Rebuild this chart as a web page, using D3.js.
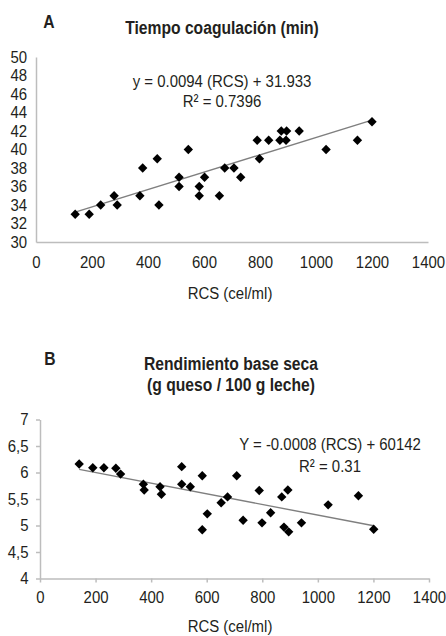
<!DOCTYPE html>
<html lang="es">
<head>
  <meta charset="UTF-8">
  <title>RCS vs coagulación y rendimiento</title>
  <script src="https://d3js.org/d3.v7.min.js"></script>
  <style>
    body {
      margin: 0;
      padding: 0;
      background: #fff;
    }
    svg {
      display: block;
      font-family: "Liberation Sans", Arial, sans-serif;
      fill: #231f20;
    }
    .axis path { stroke: #bdbdbd; stroke-width: 1.5; }
    .axis line { stroke: #bdbdbd; stroke-width: 1.5; }
    .axis text { font-size: 17px; fill: #231f20; font-family: inherit; }
  </style>
</head>
<body>
  <svg width="446" height="636"></svg>

  <script>
    // Panel A: tiempo de coagulación (min) vs RCS (cel/ml)
    const rcsA = [140, 190, 231, 279, 290, 371, 381, 433, 439, 511, 511, 544, 583, 583, 602,
                  655, 674, 707, 731, 798, 790, 831, 871, 893, 876, 895, 940, 1036, 1148, 1200];
    const tiempo = [33, 33, 34, 35, 34, 35, 38, 39, 34, 37, 36, 40, 36, 35, 37,
                    35, 38, 38, 37, 39, 41, 41, 41, 41, 42, 42, 42, 40, 41, 43];

    // Panel B: rendimiento base seca (g queso / 100 g leche) vs RCS
    const rcsB = [141, 190, 230, 273, 290, 372, 375, 432, 437, 510, 510, 541, 584, 584, 602,
                  652, 675, 708, 731, 789, 799, 830, 870, 878, 892, 895, 941, 1037, 1146, 1201];
    const rendimiento = [6.16, 6.09, 6.09, 6.08, 5.97, 5.78, 5.67, 5.73, 5.59, 6.11, 5.78, 5.73, 5.94, 4.92, 5.22,
                         5.43, 5.54, 5.94, 5.10, 5.66, 5.05, 5.24, 5.54, 4.97, 5.67, 4.88, 5.05, 5.39, 5.56, 4.93];

    const xTicks = [0, 200, 400, 600, 800, 1000, 1200, 1400];
    const yTicksA = [30, 32, 34, 36, 38, 40, 42, 44, 46, 48, 50];
    const yTicksB = [4, 4.5, 5, 5.5, 6, 6.5, 7];

    const svg = d3.select("svg");
    const narrow = 0.88; // fake a condensed face, no narrow font installed

    // least squares fit, used for the trend line
    function fit(xs, ys) {
      const mx = d3.mean(xs), my = d3.mean(ys);
      let sxy = 0, sxx = 0;
      xs.forEach((x, i) => { sxy += (x - mx) * (ys[i] - my); sxx += (x - mx) * (x - mx); });
      const m = sxy / sxx;
      return x => my + m * (x - mx);
    }

    function label(x, y, txt, size, bold) {
      return svg.append("text")
        .attr("transform", `translate(${x},${y}) scale(${bold ? 0.87 : narrow},1)`)
        .attr("text-anchor", "middle")
        .attr("font-size", size)
        .attr("font-weight", bold ? "bold" : null)
        .text(txt);
    }

    const diamond = "M0,-4.7L4.7,0L0,4.7L-4.7,0Z";

    function panel(opt) {
      const g = svg.append("g");
      const x = d3.scaleLinear().domain([0, 1400]).range(opt.xr);
      const y = d3.scaleLinear().domain(opt.yd).range(opt.yr);

      g.append("g").attr("class", "axis")
        .attr("transform", `translate(0,${opt.yr[0]})`)
        .call(d3.axisBottom(x).tickValues(xTicks).tickFormat(d3.format("d"))
          .tickSize(opt.tick).tickSizeOuter(0).tickPadding(opt.xpad))
        .selectAll("text").attr("transform", `scale(${narrow},1)`);

      g.append("g").attr("class", "axis")
        .attr("transform", `translate(${opt.xr[0]},0)`)
        .call(d3.axisLeft(y).tickValues(opt.yTicks).tickFormat(opt.yfmt)
          .tickSize(opt.tick).tickSizeOuter(0).tickPadding(opt.ypad))
        .selectAll("text").attr("transform", `scale(${narrow},1)`);

      g.selectAll(".axis .domain").attr("fill", "none");

      const f = fit(opt.xs, opt.ys);
      const x0 = d3.min(opt.xs), x1 = d3.max(opt.xs);
      g.append("line")
        .attr("x1", x(x0)).attr("y1", y(f(x0)))
        .attr("x2", x(x1)).attr("y2", y(f(x1)))
        .attr("stroke", "#7f7f7f").attr("stroke-width", 1.4);

      g.append("g").selectAll("path")
        .data(opt.xs.map((d, i) => [d, opt.ys[i]]))
        .join("path")
        .attr("d", diamond)
        .attr("transform", d => `translate(${x(d[0])},${y(d[1])})`)
        .attr("fill", "#000");

      return g;
    }

    // ---- A
    panel({
      xr: [36, 428], yd: [30, 50], yr: [242, 57],
      yTicks: yTicksA, yfmt: d3.format("d"),
      tick: 0, xpad: 13.5, ypad: 9 / narrow,
      xs: rcsA, ys: tiempo
    });

    label(49, 28, "A", 18, true);
    label(222, 34, "Tiempo coagulación (min)", 18, true);
    label(222, 87, "y = 0.0094 (RCS) + 31.933", 17);
    label(222, 107, "R² = 0.7396", 17);
    label(230, 299, "RCS (cel/ml)", 17);

    // ---- B
    panel({
      xr: [40, 429], yd: [4, 7], yr: [578.5, 419.5],
      yTicks: yTicksB, yfmt: d => String(d).replace(".", ","),
      tick: 4, xpad: 8, ypad: 8 / narrow,
      xs: rcsB, ys: rendimiento
    });

    label(50, 365, "B", 18, true);
    label(231, 370, "Rendimiento base seca", 18, true);
    label(231, 391, "(g queso / 100 g leche)", 18, true);
    label(330, 450, "Y = -0.0008 (RCS) + 60142", 17);
    label(330, 472, "R² = 0.31", 17);
    label(230, 632, "RCS (cel/ml)", 17);
  </script>
</body>
</html>
